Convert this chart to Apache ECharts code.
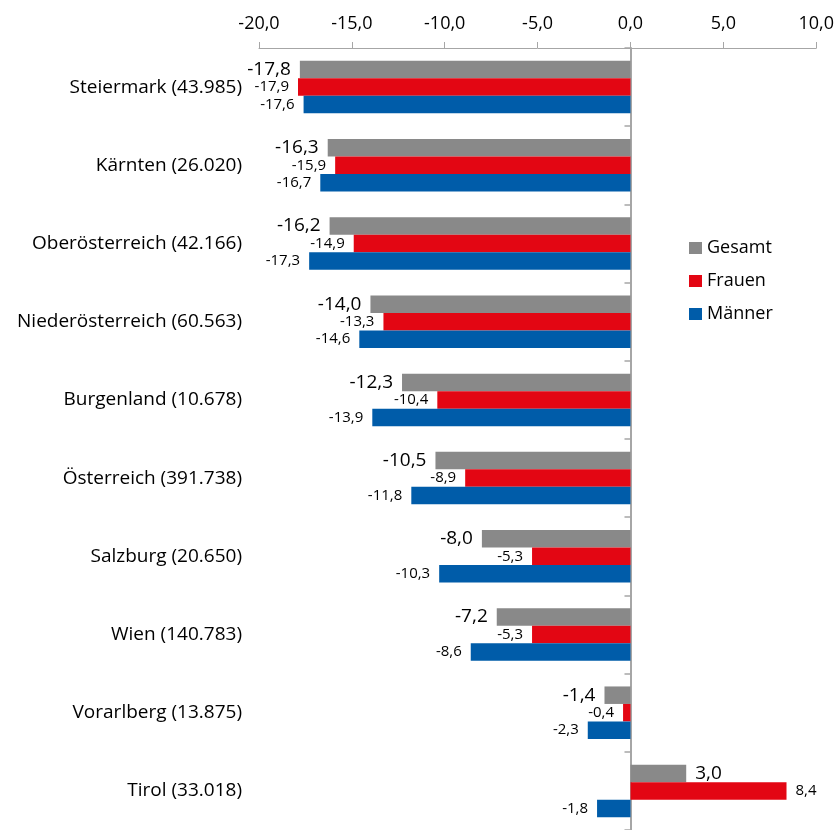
<!DOCTYPE html>
<html>
<head>
<meta charset="utf-8">
<script src="https://cdn.jsdelivr.net/npm/echarts@6/dist/echarts.min.js"></script>
<style>
  html, body { margin: 0; padding: 0; background: #ffffff; }
  #chart { width: 837px; height: 830px; }
</style>
</head>
<body>
<div id="chart"></div>
<script>
// Veränderung in Prozent nach Bundesland (Personenzahl in Klammern)
const categories = [
  'Steiermark (43.985)',
  'Kärnten (26.020)',
  'Oberösterreich (42.166)',
  'Niederösterreich (60.563)',
  'Burgenland (10.678)',
  'Österreich (391.738)',
  'Salzburg (20.650)',
  'Wien (140.783)',
  'Vorarlberg (13.875)',
  'Tirol (33.018)'
];
const gesamt = [-17.8, -16.3, -16.2, -14.0, -12.3, -10.5, -8.0, -7.2, -1.4, 3.0];
const frauen = [-17.9, -15.9, -14.9, -13.3, -10.4, -8.9, -5.3, -5.3, -0.4, 8.4];
const maenner = [-17.6, -16.7, -17.3, -14.6, -13.9, -11.8, -10.3, -8.6, -2.3, -1.8];
const xTicks = { min: -20, max: 10, step: 5 };

const FONT = 'Open Sans';
const fmt = v => Number(v).toFixed(1).replace('.', ',');

// negative values get their label on the left end, positive ones on the right
function withLabels(values) {
  return values.map(v => ({
    value: v,
    label: { position: v < 0 ? 'left' : 'right' }
  }));
}

function barSeries(name, values, color, labelSize) {
  return {
    name: name,
    type: 'bar',
    yAxisIndex: 0,
    barWidth: 17.5,
    barGap: '0%',
    itemStyle: { color: color },
    label: {
      show: true,
      distance: 9,
      fontFamily: FONT,
      fontSize: labelSize,
      color: '#000000',
      formatter: p => fmt(p.value)
    },
    data: withLabels(values)
  };
}

const chart = echarts.init(document.getElementById('chart'));
chart.setOption({
  animation: false,
  backgroundColor: '#ffffff',
  grid: { left: 259, top: 48, width: 558, height: 784, containLabel: false },
  legend: {
    orient: 'vertical',
    left: 689,
    top: 238,
    padding: 0,
    itemWidth: 13,
    itemHeight: 12,
    itemGap: 13,
    icon: 'rect',
    textStyle: { fontFamily: FONT, fontSize: 18, color: '#000000', lineHeight: 20 },
    data: ['Gesamt', 'Frauen', 'Männer']
  },
  xAxis: {
    type: 'value',
    position: 'top',
    min: xTicks.min,
    max: xTicks.max,
    interval: xTicks.step,
    splitLine: { show: false },
    axisLine: { show: true, onZero: false, lineStyle: { color: '#a6a6a6', width: 1 } },
    axisTick: { show: true, length: 6, lineStyle: { color: '#a6a6a6' } },
    axisLabel: {
      margin: 15,
      fontFamily: FONT,
      fontSize: 18,
      color: '#000000',
      formatter: v => fmt(v)
    }
  },
  yAxis: [
    {
      type: 'category',
      inverse: true,
      data: categories,
      position: 'left',
      axisLine: { show: false, onZero: false },
      axisTick: { show: false },
      axisLabel: { margin: 17, fontFamily: FONT, fontSize: 19, color: '#000000' }
    },
    {
      // zero line with the category separators
      type: 'category',
      inverse: true,
      data: categories,
      position: 'left',
      axisLine: { show: true, onZero: true, lineStyle: { color: '#a6a6a6', width: 2 } },
      axisTick: { show: true, length: 6, lineStyle: { color: '#a6a6a6', width: 1.5 } },
      axisLabel: { show: false }
    }
  ],
  series: [
    barSeries('Gesamt', gesamt, '#898989', 19),
    barSeries('Frauen', frauen, '#e30613', 15),
    barSeries('Männer', maenner, '#005ca9', 15)
  ]
});
</script>
</body>
</html>
